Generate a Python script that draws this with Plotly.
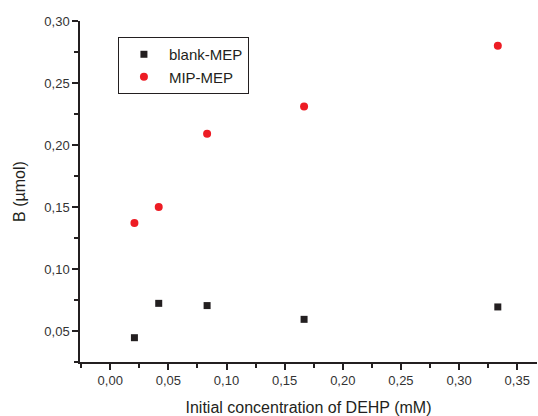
import plotly.graph_objects as go

conc = [0.0208, 0.0417, 0.0833, 0.1667, 0.3333]
blank_mep = [0.0446, 0.0723, 0.0705, 0.0594, 0.0694]
mip_mep = [0.137, 0.150, 0.209, 0.231, 0.280]

fig = go.Figure()
fig.add_trace(go.Scatter(x=conc, y=blank_mep, mode='markers', name='blank-MEP',
                         marker=dict(symbol='square', size=7, color='#231f20')))
fig.add_trace(go.Scatter(x=conc, y=mip_mep, mode='markers', name='MIP-MEP',
                         marker=dict(symbol='circle', size=8, color='#ed1c24')))

axis_style = dict(showline=True, linecolor='#231f20', linewidth=1.5,
                  ticks='outside', ticklen=6, tickwidth=1.5, tickcolor='#231f20',
                  showgrid=False, zeroline=False, tickformat='.2f', automargin=False,
                  tickfont=dict(size=13, color='#333333'),
                  minor=dict(ticks='outside', ticklen=4, tickwidth=1.5, tickcolor='#231f20'))

fig.update_layout(
    width=538, height=416,
    margin=dict(l=80, r=1, t=21, b=54),
    plot_bgcolor='white', paper_bgcolor='white',
    separators=', ',
    font=dict(family='Liberation Sans, Arial, sans-serif', color='#231f20'),
    xaxis=dict(axis_style, range=[-0.026, 0.367], tick0=0, dtick=0.05,
               title=dict(text='Initial concentration of DEHP (mM)', font=dict(size=16), standoff=14)),
    yaxis=dict(axis_style, range=[0.025, 0.30], tick0=0, dtick=0.05,
               title=dict(text='B (µmol)', font=dict(size=16), standoff=15)),
    legend=dict(x=0.083, y=0.953, xanchor='left', yanchor='top',
                bordercolor='#231f20', borderwidth=1, bgcolor='white',
                font=dict(size=15), itemwidth=40),
    showlegend=True,
)
fig.update_xaxes(minor_dtick=0.025)
fig.update_yaxes(minor_dtick=0.025)

# page body has a default 8px margin; drop it so the chart sits at the window corner
fig.write_html("out.html", config={'displayModeBar': False},
               post_script="document.body.style.margin='0';")
